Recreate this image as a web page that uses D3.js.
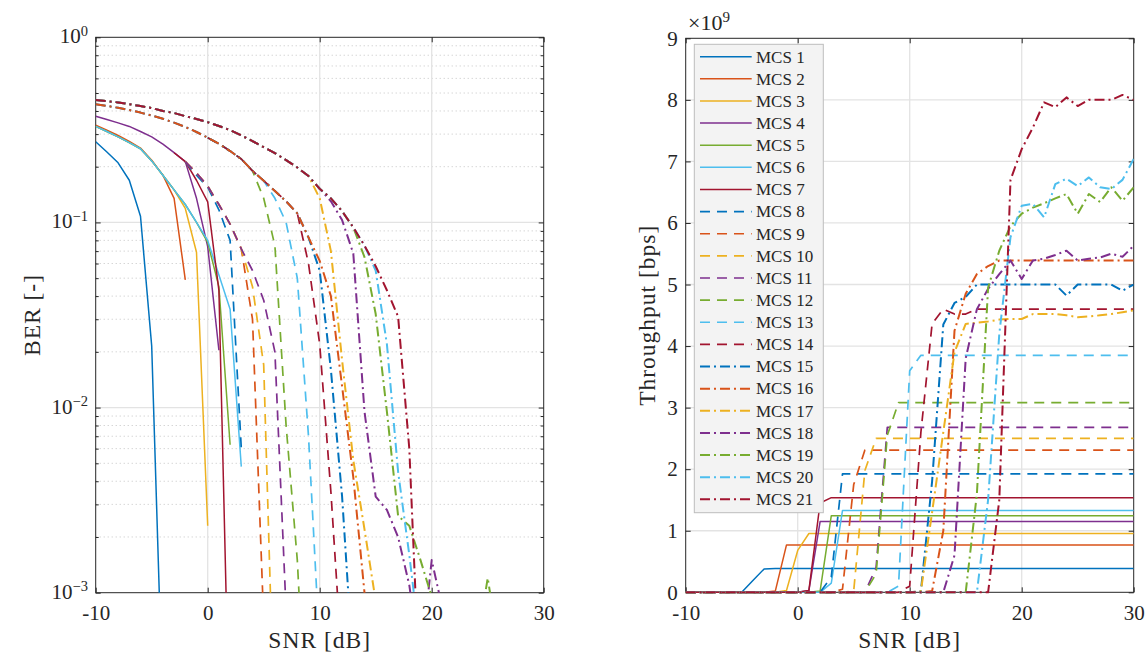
<!DOCTYPE html>
<meta charset="utf-8">
<style>
body { margin: 0; background: #ffffff; }
svg text { font-family: "Liberation Serif", "DejaVu Serif", serif; fill: #262626; }
</style>
<body>
<script src="https://d3js.org/d3.v7.min.js"></script>
<script>

// ---------- data ----------
var snr = [-10,-9,-8,-7,-6,-5,-4,-3,-2,-1,0,1,2,3,4,5,6,7,8,9,10,11,12,13,14,15,16,17,18,19,20,21,22,23,24,25,26,27,28,29,30];

var mcsNames = ["MCS 1","MCS 2","MCS 3","MCS 4","MCS 5","MCS 6","MCS 7","MCS 8","MCS 9","MCS 10","MCS 11",
                "MCS 12","MCS 13","MCS 14","MCS 15","MCS 16","MCS 17","MCS 18","MCS 19","MCS 20","MCS 21"];

var snrTicks = [-10, 0, 10, 20, 30];
var berTicks = [1e-3, 1e-2, 1e-1, 1];
var berTickExp = ["\u22123", "\u22122", "\u22121", "0"];
var tputTicks = [0, 1, 2, 3, 4, 5, 6, 7, 8, 9];

// BER per MCS, index i <-> snr[i]; null = not drawn, 0 = no errors (dropped on log axis)
var berMcs1 = [0.273, 0.24, 0.21, 0.169, 0.108, 0.0215, 2.3e-4, 0];
var berMcs2 = [0.335, 0.315, 0.295, 0.274, 0.252, 0.217, 0.18, 0.135, 0.049, 0];
var berMcs3 = [0.33, 0.31, 0.29, 0.27, 0.25, 0.215, 0.18, 0.15, 0.119, 0.069, 0.0023, 0];
var berMcs4 = [0.375, 0.36, 0.345, 0.33, 0.31, 0.29, 0.265, 0.238, 0.213, 0.135, 0.074, 0.0204, 0];
var berMcs5 = [0.33, 0.31, 0.29, 0.27, 0.25, 0.215, 0.18, 0.15, 0.125, 0.10, 0.078, 0.045, 0.0063, 0];
var berMcs6 = [0.33, 0.31, 0.29, 0.27, 0.25, 0.215, 0.18, 0.15, 0.125, 0.10, 0.08, 0.052, 0.034, 0.0048, 0];
var berMcs7 = [null, null, null, null, null, null, null, 0.238, 0.213, 0.169, 0.129, 0.043, 1.2e-4, 0];
var berMcs8 = [null, null, null, null, null, null, null, null, 0.213, 0.18, 0.155, 0.117, 0.08, 0.006, 0];
var berMcs9 = [null, null, null, null, null, null, null, null, 0.213, 0.185, 0.157, 0.125, 0.098, 0.072, 0.03, 7e-4, 0];
var berMcs10 = [null, null, null, null, null, null, null, null, 0.213, 0.185, 0.157, 0.125, 0.098, 0.072, 0.045, 0.017, 1.5e-4, 0];
var berMcs11 = [null, null, null, null, null, null, null, null, 0.213, 0.185, 0.157, 0.125, 0.098, 0.072, 0.055, 0.038, 0.02, 8e-4, 0];
var berMcs12 = [null, null, null, null, null, null, null, null, null, null, 0.287, 0.266, 0.243, 0.22, 0.19, 0.135, 0.075, 0.008, 0.0015, 1e-4, 0];
var berMcs13 = [null, null, null, null, null, null, null, null, null, null, 0.287, 0.266, 0.243, 0.22, 0.19, 0.168, 0.135, 0.10, 0.05, 0.007, 5e-4, 0];
var berMcs14 = [null, null, null, null, null, null, null, null, null, null, 0.287, 0.266, 0.243, 0.22, 0.19, 0.168, 0.148, 0.13, 0.112, 0.06, 0.022, 0.0035, 4e-4, 0];
var berMcs15 = [0.435, 0.426, 0.416, 0.405, 0.392, 0.378, 0.363, 0.346, 0.328, 0.308, 0.287, 0.266, 0.243, 0.22, 0.19, 0.168, 0.148, 0.13, 0.112, 0.083, 0.055, 0.016, 0.0033, 3.8e-4, 0];
var berMcs16 = [0.435, 0.426, 0.416, 0.405, 0.392, 0.378, 0.363, 0.346, 0.328, 0.308, 0.287, 0.266, 0.243, 0.22, 0.19, 0.168, 0.148, 0.13, 0.112, 0.083, 0.062, 0.04, 0.013, 0.0042, 0.001, 1e-4, 0];
var berMcs17 = [0.458, 0.452, 0.445, 0.435, 0.425, 0.415, 0.40, 0.39, 0.375, 0.362, 0.348, 0.332, 0.315, 0.295, 0.275, 0.255, 0.237, 0.217, 0.198, 0.178, 0.135, 0.07, 0.018, 0.0052, 0.0022, 9e-4, 0];
var berMcs18 = [0.458, 0.452, 0.445, 0.435, 0.425, 0.415, 0.40, 0.39, 0.375, 0.362, 0.348, 0.332, 0.315, 0.295, 0.275, 0.255, 0.237, 0.217, 0.198, 0.178, 0.152, 0.13, 0.103, 0.068, 0.0095, 0.0033, 0.0028, 0.002, 0.0011, 4e-4, 0.0015, 8e-4, 0];
var berMcs19 = [0.458, 0.452, 0.445, 0.435, 0.425, 0.415, 0.40, 0.39, 0.375, 0.362, 0.348, 0.332, 0.315, 0.295, 0.275, 0.255, 0.237, 0.217, 0.198, 0.178, 0.152, 0.135, 0.115, 0.094, 0.065, 0.032, 0.0095, 0.0026, 0.0023, 0.0015, 9.5e-4, 0, 0, 0, 5e-4, 0.0012, 5e-4, 0];
var berMcs20 = [0.458, 0.452, 0.445, 0.435, 0.425, 0.415, 0.40, 0.39, 0.375, 0.362, 0.348, 0.332, 0.315, 0.295, 0.275, 0.255, 0.237, 0.217, 0.198, 0.178, 0.152, 0.135, 0.115, 0.094, 0.075, 0.055, 0.022, 0.0045, 0.0016, 5e-4, 0];
var berMcs21 = [0.458, 0.452, 0.445, 0.435, 0.425, 0.415, 0.40, 0.39, 0.375, 0.362, 0.348, 0.332, 0.315, 0.295, 0.275, 0.255, 0.237, 0.217, 0.198, 0.178, 0.152, 0.135, 0.115, 0.094, 0.075, 0.058, 0.043, 0.031, 0.006, 2.3e-4, 0];

// throughput per MCS in units of 1e9 bps, index i <-> snr[i]
var tputMcs1 = [0,0,0,0,0,0,0.19,0.38,0.385,0.385,0.385,0.385,0.385,0.385,0.385,0.385,0.385,0.385,0.385,0.385,0.385,0.385,0.385,0.385,0.385,0.385,0.385,0.385,0.385,0.385,0.385,0.385,0.385,0.385,0.385,0.385,0.385,0.385,0.385,0.385,0.385];
var tputMcs2 = [0,0,0,0,0,0,0,0,0.02,0.77,0.77,0.77,0.77,0.77,0.77,0.77,0.77,0.77,0.77,0.77,0.77,0.77,0.77,0.77,0.77,0.77,0.77,0.77,0.77,0.77,0.77,0.77,0.77,0.77,0.77,0.77,0.77,0.77,0.77,0.77,0.77];
var tputMcs3 = [0,0,0,0,0,0,0,0,0,0.03,0.68,0.955,0.955,0.955,0.955,0.955,0.955,0.955,0.955,0.955,0.955,0.955,0.955,0.955,0.955,0.955,0.955,0.955,0.955,0.955,0.955,0.955,0.955,0.955,0.955,0.955,0.955,0.955,0.955,0.955,0.955];
var tputMcs4 = [0,0,0,0,0,0,0,0,0,0,0,0.03,1.15,1.15,1.15,1.15,1.15,1.15,1.15,1.15,1.15,1.15,1.15,1.15,1.15,1.15,1.15,1.15,1.15,1.15,1.15,1.15,1.15,1.15,1.15,1.15,1.15,1.15,1.15,1.15,1.15];
var tputMcs5 = [0,0,0,0,0,0,0,0,0,0,0,0,0.02,1.245,1.245,1.245,1.245,1.245,1.245,1.245,1.245,1.245,1.245,1.245,1.245,1.245,1.245,1.245,1.245,1.245,1.245,1.245,1.245,1.245,1.245,1.245,1.245,1.245,1.245,1.245,1.245];
var tputMcs6 = [0,0,0,0,0,0,0,0,0,0,0,0,0,0.15,1.33,1.33,1.33,1.33,1.33,1.33,1.33,1.33,1.33,1.33,1.33,1.33,1.33,1.33,1.33,1.33,1.33,1.33,1.33,1.33,1.33,1.33,1.33,1.33,1.33,1.33,1.33];
var tputMcs7 = [0,0,0,0,0,0,0,0,0,0,0,0.03,1.45,1.537,1.537,1.537,1.537,1.537,1.537,1.537,1.537,1.537,1.537,1.537,1.537,1.537,1.537,1.537,1.537,1.537,1.537,1.537,1.537,1.537,1.537,1.537,1.537,1.537,1.537,1.537,1.537];
var tputMcs8 = [0,0,0,0,0,0,0,0,0,0,0,0,0,0.25,1.925,1.925,1.925,1.925,1.925,1.925,1.925,1.925,1.925,1.925,1.925,1.925,1.925,1.925,1.925,1.925,1.925,1.925,1.925,1.925,1.925,1.925,1.925,1.925,1.925,1.925,1.925];
var tputMcs9 = [0,0,0,0,0,0,0,0,0,0,0,0,0,0,0.05,1.75,2.31,2.31,2.31,2.31,2.31,2.31,2.31,2.31,2.31,2.31,2.31,2.31,2.31,2.31,2.31,2.31,2.31,2.31,2.31,2.31,2.31,2.31,2.31,2.31,2.31];
var tputMcs10 = [0,0,0,0,0,0,0,0,0,0,0,0,0,0,0,0.02,1.98,2.5,2.5,2.5,2.5,2.5,2.5,2.5,2.5,2.5,2.5,2.5,2.5,2.5,2.5,2.5,2.5,2.5,2.5,2.5,2.5,2.5,2.5,2.5,2.5];
var tputMcs11 = [0,0,0,0,0,0,0,0,0,0,0,0,0,0,0,0,0,0.4,2.68,2.68,2.68,2.68,2.68,2.68,2.68,2.68,2.68,2.68,2.68,2.68,2.68,2.68,2.68,2.68,2.68,2.68,2.68,2.68,2.68,2.68,2.68];
var tputMcs12 = [0,0,0,0,0,0,0,0,0,0,0,0,0,0,0,0,0,0.3,2.55,3.08,3.08,3.08,3.08,3.08,3.08,3.08,3.08,3.08,3.08,3.08,3.08,3.08,3.08,3.08,3.08,3.08,3.08,3.08,3.08,3.08,3.08];
var tputMcs13 = [0,0,0,0,0,0,0,0,0,0,0,0,0,0,0,0,0,0,0,0.1,3.6,3.85,3.85,3.85,3.85,3.85,3.85,3.85,3.85,3.85,3.85,3.85,3.85,3.85,3.85,3.85,3.85,3.85,3.85,3.85,3.85];
var tputMcs14 = [0,0,0,0,0,0,0,0,0,0,0,0,0,0,0,0,0,0,0,0,0.1,2.6,4.36,4.6,4.52,4.52,4.6,4.6,4.6,4.6,4.6,4.6,4.6,4.6,4.6,4.6,4.6,4.6,4.6,4.6,4.6];
var tputMcs15 = [0,0,0,0,0,0,0,0,0,0,0,0,0,0,0,0,0,0,0,0,0,0.02,1.8,4.35,4.7,4.8,5.0,5.0,5.0,5.0,5.0,5.0,5.0,5.0,4.82,5.0,5.0,5.0,5.0,4.9,5.0];
var tputMcs16 = [0,0,0,0,0,0,0,0,0,0,0,0,0,0,0,0,0,0,0,0,0,0,0.02,1.0,4.25,4.85,5.17,5.3,5.39,5.39,5.39,5.39,5.39,5.39,5.39,5.39,5.39,5.39,5.39,5.39,5.39];
var tputMcs17 = [0,0,0,0,0,0,0,0,0,0,0,0,0,0,0,0,0,0,0,0,0,0.02,1.3,2.6,3.9,4.36,4.38,4.4,4.43,4.44,4.44,4.52,4.52,4.52,4.5,4.47,4.48,4.5,4.52,4.55,4.58];
var tputMcs18 = [0,0,0,0,0,0,0,0,0,0,0,0,0,0,0,0,0,0,0,0,0,0,0,0,0.6,3.8,4.6,4.93,5.17,5.39,5.09,5.39,5.42,5.48,5.55,5.39,5.42,5.44,5.5,5.45,5.63];
var tputMcs19 = [0,0,0,0,0,0,0,0,0,0,0,0,0,0,0,0,0,0,0,0,0,0,0,0,0,0,1.6,4.95,5.55,5.95,6.15,6.25,6.32,6.4,6.47,6.15,6.47,6.34,6.58,6.36,6.58];
var tputMcs20 = [0,0,0,0,0,0,0,0,0,0,0,0,0,0,0,0,0,0,0,0,0,0,0,0,0,0,0,1.5,4.2,5.77,6.28,6.31,6.09,6.63,6.72,6.6,6.74,6.58,6.55,6.7,7.04];
var tputMcs21 = [0,0,0,0,0,0,0,0,0,0,0,0,0,0,0,0,0,0,0,0,0,0,0,0,0,0,0,0,1.5,6.7,7.2,7.55,7.96,7.88,8.04,7.9,8.0,8.0,8.0,8.08,8.0];

var berSeries = [berMcs1, berMcs2, berMcs3, berMcs4, berMcs5, berMcs6, berMcs7, berMcs8, berMcs9, berMcs10, berMcs11,
                 berMcs12, berMcs13, berMcs14, berMcs15, berMcs16, berMcs17, berMcs18, berMcs19, berMcs20, berMcs21];
var tputSeries = [tputMcs1, tputMcs2, tputMcs3, tputMcs4, tputMcs5, tputMcs6, tputMcs7, tputMcs8, tputMcs9, tputMcs10, tputMcs11,
                  tputMcs12, tputMcs13, tputMcs14, tputMcs15, tputMcs16, tputMcs17, tputMcs18, tputMcs19, tputMcs20, tputMcs21];

// matlab default colour order, repeated for solid / dashed / dash-dot groups
var colors = ["#0072BD", "#D95319", "#EDB120", "#7E2F8E", "#77AC30", "#4DBEEE", "#A2142F"];

function lineColor(i) { return colors[i % 7]; }
function lineDash(i) { return i < 7 ? null : (i < 14 ? "10,7" : "10,4,2,4"); }
function lineWidth(i) { return i < 7 ? 1.5 : (i < 14 ? 1.7 : 2.0); }

var serif = "'Liberation Serif', 'DejaVu Serif', serif";
var tickSize = "21px";

// ---------- svg ----------
var svg = d3.select("body").append("svg")
    .attr("width", 1146)
    .attr("height", 655)
    .attr("font-family", serif);

var axisColor = "#262626";

// left plot scales (BER, log)
var xL = d3.scaleLinear().domain([-10, 30]).range([95.7, 543.7]);
var yL = d3.scaleLog().domain([1e-3, 1]).range([592.7, 37.3]);

// right plot scales (throughput)
var xR = d3.scaleLinear().domain([-10, 30]).range([685.7, 1133.7]);
var yR = d3.scaleLinear().domain([0, 9]).range([592.3, 38.3]);

var defs = svg.append("defs");
defs.append("clipPath").attr("id", "clipL").append("rect")
    .attr("x", 95.7).attr("y", 37.3).attr("width", 448).attr("height", 555.4);
defs.append("clipPath").attr("id", "clipR").append("rect")
    .attr("x", 685.7).attr("y", 36).attr("width", 448).attr("height", 559);

// ---------- left plot: grid ----------
var gL = svg.append("g");

var minorBer = yL.ticks().filter(function(v) { return berTicks.indexOf(v) < 0; });

gL.selectAll(".minorgrid").data(minorBer).enter().append("line")
    .attr("x1", xL(-10)).attr("x2", xL(30))
    .attr("y1", function(d) { return yL(d); }).attr("y2", function(d) { return yL(d); })
    .attr("stroke", "#c4c4c4").attr("stroke-width", 1).attr("stroke-dasharray", "1,3");

gL.selectAll(".ygrid").data(berTicks.slice(1, 3)).enter().append("line")
    .attr("x1", xL(-10)).attr("x2", xL(30))
    .attr("y1", function(d) { return yL(d); }).attr("y2", function(d) { return yL(d); })
    .attr("stroke", "#e3e3e3").attr("stroke-width", 1.3);

gL.selectAll(".xgrid").data(snrTicks.slice(1, 4)).enter().append("line")
    .attr("y1", yL(1e-3)).attr("y2", yL(1))
    .attr("x1", function(d) { return xL(d); }).attr("x2", function(d) { return xL(d); })
    .attr("stroke", "#e3e3e3").attr("stroke-width", 1.3);

// axes ticks (inward)
function styleAxis(g) {
  g.attr("color", axisColor).attr("font-family", serif).attr("font-size", 21);
  g.select(".domain").remove();
  g.selectAll("text").attr("font-family", serif).style("font-size", tickSize);
}

svg.append("g").attr("transform", "translate(0," + yL(1e-3) + ")")
    .call(d3.axisBottom(xL).tickValues(snrTicks).tickSizeInner(-5).tickSizeOuter(0).tickPadding(12.5)
          .tickFormat(function(d) { return String(d); }))
    .call(styleAxis);
svg.append("g").attr("transform", "translate(0," + yL(1) + ")")
    .call(d3.axisTop(xL).tickValues(snrTicks).tickSizeInner(-5).tickSizeOuter(0).tickFormat(""))
    .call(styleAxis);
svg.append("g").attr("transform", "translate(" + xL(-10) + ",0)")
    .call(d3.axisLeft(yL).tickValues(berTicks).tickSizeInner(-5).tickSizeOuter(0).tickFormat(""))
    .call(styleAxis);
svg.append("g").attr("transform", "translate(" + xL(-10) + ",0)")
    .call(d3.axisLeft(yL).tickValues(minorBer).tickSizeInner(-3).tickSizeOuter(0).tickFormat(""))
    .call(styleAxis);
svg.append("g").attr("transform", "translate(" + xL(30) + ",0)")
    .call(d3.axisRight(yL).tickValues(berTicks).tickSizeInner(-5).tickSizeOuter(0).tickFormat(""))
    .call(styleAxis);
svg.append("g").attr("transform", "translate(" + xL(30) + ",0)")
    .call(d3.axisRight(yL).tickValues(minorBer).tickSizeInner(-3).tickSizeOuter(0).tickFormat(""))
    .call(styleAxis);

// log tick labels 10^k
var berLabels = svg.append("g").selectAll("text").data(berTicks).enter().append("text")
    .attr("x", 88)
    .attr("y", function(d) { return yL(d) + 6; })
    .attr("text-anchor", "end")
    .style("font-size", tickSize);
berLabels.append("tspan").text("10");
berLabels.append("tspan")
    .attr("dy", -7.5)
    .style("font-size", "14.5px")
    .text(function(d, i) { return berTickExp[i]; });

// box
svg.append("rect")
    .attr("x", xL(-10)).attr("y", yL(1))
    .attr("width", xL(30) - xL(-10)).attr("height", yL(1e-3) - yL(1))
    .attr("fill", "none").attr("stroke", axisColor).attr("stroke-width", 1);

// BER curves
var berLine = d3.line()
    .defined(function(d) { return d[1] != null && d[1] > 0; })
    .x(function(d) { return xL(d[0]); })
    .y(function(d) { return yL(d[1]); });

var curvesL = svg.append("g").attr("clip-path", "url(#clipL)");
berSeries.forEach(function(arr, i) {
  var pts = arr.map(function(v, k) { return [snr[k], v]; });
  curvesL.append("path")
      .datum(pts)
      .attr("d", berLine)
      .attr("fill", "none")
      .attr("stroke", lineColor(i))
      .attr("stroke-width", lineWidth(i))
      .attr("stroke-dasharray", lineDash(i))
      .attr("stroke-linejoin", "round");
});

// axis labels
svg.append("text")
    .attr("x", (xL(-10) + xL(30)) / 2).attr("y", 648)
    .attr("text-anchor", "middle")
    .style("font-size", "23.5px")
    .style("letter-spacing", "1px")
    .text("SNR [dB]");
svg.append("text")
    .attr("transform", "translate(40," + (yL(1) + yL(1e-3)) / 2 + ") rotate(-90)")
    .attr("text-anchor", "middle")
    .style("font-size", "23.5px")
    .style("letter-spacing", "1px")
    .text("BER [-]");

// ---------- right plot ----------
var gR = svg.append("g");

gR.selectAll(".ygrid").data(tputTicks.slice(1, 9)).enter().append("line")
    .attr("x1", xR(-10)).attr("x2", xR(30))
    .attr("y1", function(d) { return yR(d); }).attr("y2", function(d) { return yR(d); })
    .attr("stroke", "#e3e3e3").attr("stroke-width", 1.3);

gR.selectAll(".xgrid").data(snrTicks.slice(1, 4)).enter().append("line")
    .attr("y1", yR(0)).attr("y2", yR(9))
    .attr("x1", function(d) { return xR(d); }).attr("x2", function(d) { return xR(d); })
    .attr("stroke", "#e3e3e3").attr("stroke-width", 1.3);

svg.append("g").attr("transform", "translate(0," + yR(0) + ")")
    .call(d3.axisBottom(xR).tickValues(snrTicks).tickSizeInner(-5).tickSizeOuter(0).tickPadding(12.5)
          .tickFormat(function(d) { return String(d); }))
    .call(styleAxis);
svg.append("g").attr("transform", "translate(0," + yR(9) + ")")
    .call(d3.axisTop(xR).tickValues(snrTicks).tickSizeInner(-5).tickSizeOuter(0).tickFormat(""))
    .call(styleAxis);
svg.append("g").attr("transform", "translate(" + xR(-10) + ",0)")
    .call(d3.axisLeft(yR).tickValues(tputTicks).tickSizeInner(-5).tickSizeOuter(0).tickPadding(8)
          .tickFormat(function(d) { return String(d); }))
    .call(styleAxis);
svg.append("g").attr("transform", "translate(" + xR(30) + ",0)")
    .call(d3.axisRight(yR).tickValues(tputTicks).tickSizeInner(-5).tickSizeOuter(0).tickFormat(""))
    .call(styleAxis);

svg.append("rect")
    .attr("x", xR(-10)).attr("y", yR(9))
    .attr("width", xR(30) - xR(-10)).attr("height", yR(0) - yR(9))
    .attr("fill", "none").attr("stroke", axisColor).attr("stroke-width", 1);

// exponent label
var expo = svg.append("text").attr("x", 688).attr("y", 30).style("font-size", "22px");
expo.append("tspan").text("\u00d710");
expo.append("tspan").attr("dy", -8).style("font-size", "15px").text("9");

// throughput curves
var tputLine = d3.line()
    .x(function(d) { return xR(d[0]); })
    .y(function(d) { return yR(d[1]); });

var curvesR = svg.append("g").attr("clip-path", "url(#clipR)");
tputSeries.forEach(function(arr, i) {
  var pts = arr.map(function(v, k) { return [snr[k], v]; });
  curvesR.append("path")
      .datum(pts)
      .attr("d", tputLine)
      .attr("fill", "none")
      .attr("stroke", lineColor(i))
      .attr("stroke-width", lineWidth(i))
      .attr("stroke-dasharray", lineDash(i))
      .attr("stroke-linejoin", "round");
});

svg.append("text")
    .attr("x", (xR(-10) + xR(30)) / 2).attr("y", 648)
    .attr("text-anchor", "middle")
    .style("font-size", "23.5px")
    .style("letter-spacing", "1px")
    .text("SNR [dB]");
svg.append("text")
    .attr("transform", "translate(655," + (yR(0) + yR(9)) / 2 + ") rotate(-90)")
    .attr("text-anchor", "middle")
    .style("font-size", "23.5px")
    .style("letter-spacing", "1px")
    .text("Throughput [bps]");

// ---------- legend ----------
var legend = svg.append("g").attr("transform", "translate(694.3,44.3)");
legend.append("rect")
    .attr("width", 129).attr("height", 468.4)
    .attr("fill", "#f3f3f3").attr("stroke", "#bdbdbd").attr("stroke-width", 1);

var rows = legend.selectAll(".row").data(mcsNames).enter().append("g")
    .attr("transform", function(d, i) { return "translate(0," + (12.4 + i * 22.13) + ")"; });
rows.append("line")
    .attr("x1", 5.7).attr("x2", 57.4).attr("y1", 0).attr("y2", 0)
    .attr("stroke", function(d, i) { return lineColor(i); })
    .attr("stroke-width", function(d, i) { return lineWidth(i); })
    .attr("stroke-dasharray", function(d, i) { return lineDash(i); });
rows.append("text")
    .attr("x", 61.7).attr("y", 5.8)
    .style("font-size", "17px")
    .text(function(d) { return d; });

</script>
</body>
